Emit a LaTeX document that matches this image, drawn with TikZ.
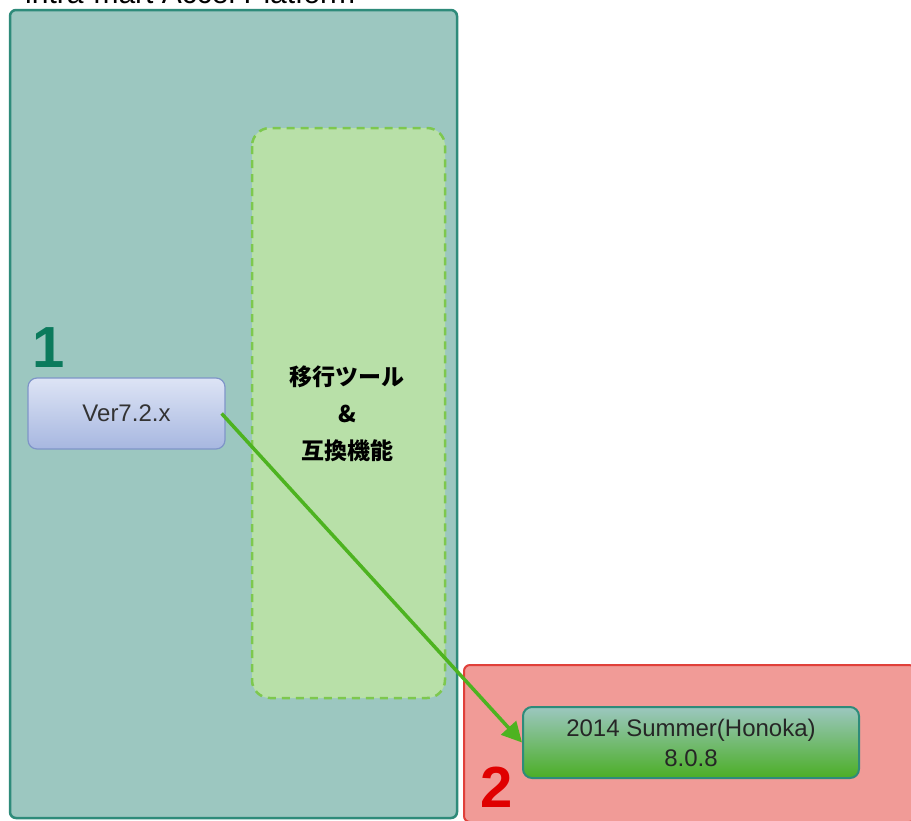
\documentclass[tikz,border=0pt]{standalone}
\usepackage{fontspec}
\setmainfont{Liberation Sans}
\newfontfamily\jpfont{Noto Sans CJK JP}
\usetikzlibrary{arrows.meta}
\definecolor{tealfill}{HTML}{9CC7C0}
\definecolor{tealline}{HTML}{2E8B7A}
\definecolor{dashfill}{HTML}{B8E0A8}
\definecolor{dashline}{HTML}{7DC84E}
\definecolor{bluetop}{HTML}{DDE4F5}
\definecolor{bluebot}{HTML}{A7B7E0}
\definecolor{blueline}{HTML}{7F95C8}
\definecolor{redfill}{HTML}{F19B97}
\definecolor{redline}{HTML}{E0403A}
\definecolor{greentop}{HTML}{9CC7C0}
\definecolor{greenbot}{HTML}{4BAE25}
\definecolor{arrowgreen}{HTML}{4DB320}
\definecolor{numgreen}{HTML}{0B7A5C}
\definecolor{numred}{HTML}{E00000}
\tikzset{
  panel/.style={draw, line width=2.5pt, rounded corners=6pt},
  verbox/.style={draw=blueline, line width=1.2pt, rounded corners=9pt, top color=bluetop, bottom color=bluebot, text=black!80, font=\fontsize{24}{26}\selectfont},
  relbox/.style={draw=tealline, line width=2pt, rounded corners=9pt, top color=greentop, bottom color=greenbot, text=black!85, font=\fontsize{24}{30}\selectfont, align=center},
  bignum/.style={font=\fontsize{58}{60}\selectfont\bfseries, anchor=south west, inner sep=0pt},
}
\begin{document}
\begin{tikzpicture}[x=1pt,y=-1pt]
\useasboundingbox (0,0) rectangle (911,820);
\clip (0,0) rectangle (911,820);
\fill[white] (0,0) rectangle (911,820);
% clipped title
\node[anchor=base west, inner sep=0pt, font=\fontsize{30}{32}\selectfont] (title) at (25,3.5) {intra-mart Accel Platform};
% teal panel
\draw[panel, draw=tealline, fill=tealfill] (10,10) rectangle (457,818);
% dashed box
\draw[draw=dashline, fill=dashfill, line width=2.5pt, dash pattern=on 8pt off 6pt, rounded corners=18pt] (252,128) rectangle (445,698);
\node[font=\jpfont\bfseries\fontsize{23}{37}\selectfont, align=center] (tool) at (347,414) {移行ツール\\\&\\互換機能};
% red panel
\draw[panel, draw=redline, fill=redfill, line width=2pt] (464,665) rectangle (915,822);
% boxes
\node[verbox, minimum width=197pt, minimum height=71pt] (ver) at (126.5,413.5) {Ver7.2.x};
\node[relbox, minimum width=336pt, minimum height=71pt, inner sep=2pt] (rel) at (691,742.5) {2014 Summer(Honoka)\\8.0.8};
% numbers
\node[bignum, text=numgreen] (n1) at (32,368) {1};
\node[bignum, text=numred] (n2) at (480,808) {2};
% arrow
\coordinate (s) at ([xshift=-4pt]ver.east);
\draw[arrowgreen, line width=3.5pt, -{Triangle[length=20pt,width=20pt]}] (s) -- (rel.west);
\end{tikzpicture}
\end{document}
